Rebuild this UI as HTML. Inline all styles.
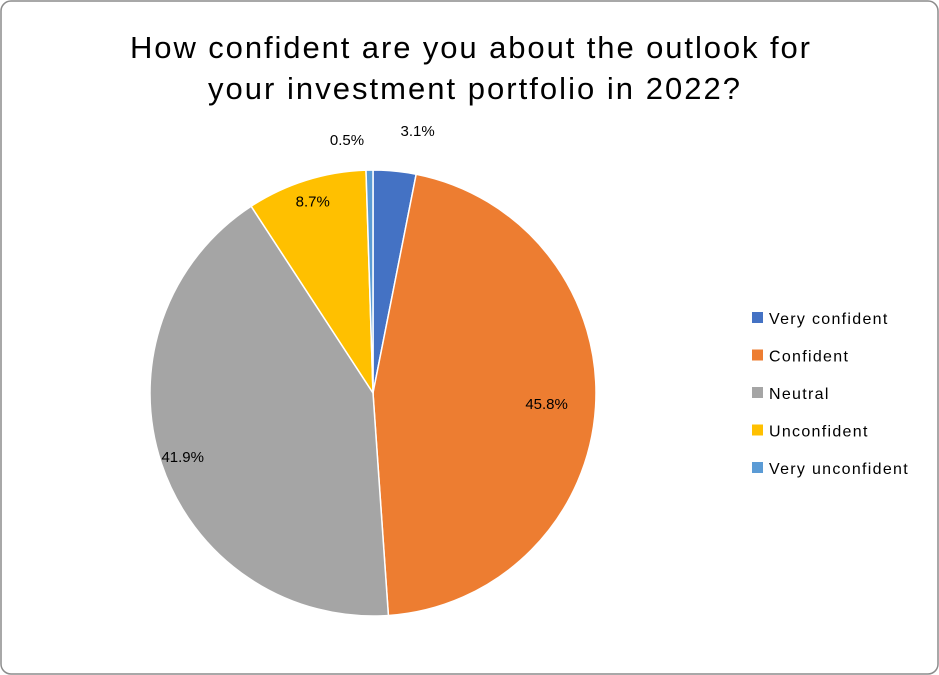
<!DOCTYPE html>
<html><head><meta charset="utf-8"><style>
body{margin:0;background:#fff;}
svg{display:block;font-family:"Liberation Sans",Calibri,sans-serif;}
</style></head><body>
<svg width="939" height="675">
<rect x="1" y="1" width="937" height="673" rx="10" fill="#fff" stroke="#8c8c8c" stroke-width="1.5"/>
<text x="470" y="58" text-anchor="middle" font-size="31" textLength="680" lengthAdjust="spacing" fill="#000">How confident are you about the outlook for</text>
<text x="474" y="99" text-anchor="middle" font-size="31" textLength="532" lengthAdjust="spacing" fill="#000">your investment portfolio in 2022?</text>
<g id="slices"></g>
<g id="labels"></g>
<g id="legend"></g>
</svg>
<script>
const categories=["Very confident","Confident","Neutral","Unconfident","Very unconfident"];
const values=[3.1,45.8,41.9,8.7,0.5];
const colors=["#4472C4","#ED7D31","#A5A5A5","#FFC000","#5B9BD5"];
const cx=373,cy=393,r=223;
const ns="http://www.w3.org/2000/svg";
const total=values.reduce((a,b)=>a+b,0);
const sl=document.getElementById('slices'),lb=document.getElementById('labels'),lg=document.getElementById('legend');
function pt(a,rr){return [cx+rr*Math.sin(a),cy-rr*Math.cos(a)];}
let a0=0;
values.forEach((v,i)=>{
  const a1=a0+v/total*2*Math.PI;
  const [x0,y0]=pt(a0,r),[x1,y1]=pt(a1,r);
  const p=document.createElementNS(ns,'path');
  p.setAttribute('d',`M${cx},${cy}L${x0},${y0}A${r},${r} 0 ${a1-a0>Math.PI?1:0} 1 ${x1},${y1}Z`);
  p.setAttribute('fill',colors[i]);p.setAttribute('stroke','#fff');p.setAttribute('stroke-width','1.5');
  
  
  sl.appendChild(p);
  const mid=(a0+a1)/2;
  const small=v<5;
  let [lx,ly]=pt(mid,small?r+30:(v>45?r*0.78:r*0.9));
  if(small){lx+=(i===0?20:-22); if(i===0) ly-=10;}
  const t=document.createElementNS(ns,'text');
  t.setAttribute('x',lx);t.setAttribute('y',ly+5);t.setAttribute('text-anchor','middle');t.setAttribute('font-size','15');
  t.textContent=v.toFixed(1)+'%';
  
  
  lb.appendChild(t);
  const ry=318+i*37.5;
  const s=document.createElementNS(ns,'rect');
  s.setAttribute('x',752);s.setAttribute('y',ry-6);s.setAttribute('width',11);s.setAttribute('height',11);s.setAttribute('fill',colors[i]);
  
  
  lg.appendChild(s);
  const lt=document.createElementNS(ns,'text');
  lt.setAttribute('x',769);lt.setAttribute('y',ry+6);lt.setAttribute('font-size','16');lt.setAttribute('letter-spacing','1.3');lt.textContent=categories[i];
  
  
  lg.appendChild(lt);
  a0=a1;
});
</script>
</body></html>
